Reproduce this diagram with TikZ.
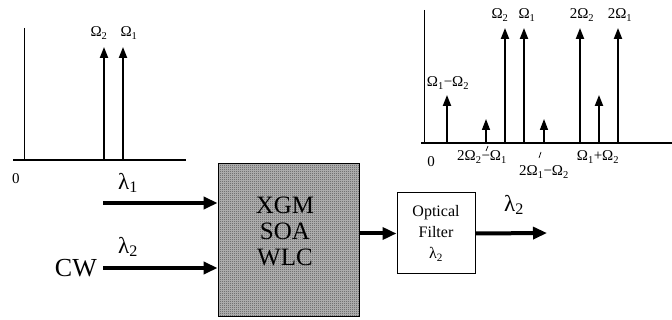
\documentclass[tikz,border=0pt]{standalone}
\usepackage{fontspec}
\setmainfont{Liberation Serif}
\usetikzlibrary{arrows.meta,patterns.meta}

\tikzdeclarepattern{
  name=soachecker,
  type=uncolored,
  bottom left={(0pt,0pt)},
  top right={(2pt,2pt)},
  tile size={(2pt,2pt)},
  code={
    \pgfpathrectangle{\pgfpoint{0pt}{0pt}}{\pgfpoint{1pt}{1pt}}
    \pgfpathrectangle{\pgfpoint{1pt}{1pt}}{\pgfpoint{1pt}{1pt}}
    \pgfusepath{fill}
  }
}

\begin{document}
\begin{tikzpicture}[x=1pt, y=-1pt,
  axis/.style={line width=1.2pt},
  spec/.style={-{Triangle[length=11pt,width=8pt]}, line width=2pt},
  weak/.style={-{Triangle[length=11pt,width=8pt]}, line width=1.4pt},
  tag/.style={font=\fontsize{15}{15}\selectfont, inner sep=0pt},
  big/.style={font=\fontsize{23}{23}\selectfont, inner sep=0pt},
  beam/.style={-{Triangle[length=14pt,width=12pt]}, line width=4pt},
  soabox/.style={draw, line width=0.8pt, preaction={fill=gray!55}, pattern=soachecker, pattern color=black!70, minimum width=141pt, minimum height=153pt},
  filterbox/.style={draw, line width=1pt, fill=white, minimum width=78pt, minimum height=81pt, align=center, font=\fontsize{16}{21}\selectfont}
]
  \useasboundingbox (0,0) rectangle (672,320);

  % input spectrum
  \draw[line width=0.9pt] (24,28) -- (24,160);
  \draw[axis] (13,160) -- (186,160);
  \foreach \name/\x in {inTwo/104, inOne/123} {
    \coordinate (\name-b) at (\x,160);
    \coordinate (\name-t) at (\x,47);
    \draw[spec] (\name-b) -- (\name-t);
  }
  \node[tag] (zeroin) at (16,179) {0};
  \node[tag] (labinTwo) at (99,33) {Ω\textsubscript{2}};
  \node[tag] (labinOne) at (129,33) {Ω\textsubscript{1}};

  % output spectrum
  \draw[line width=0.9pt] (424,10) -- (424,143);
  \draw[axis] (421,143) -- (672,143);
  \foreach \name/\x/\top in {diff/447/95, sum/599/95, om2/505/28, om1/524/28, harm2/580/28, harm1/618/28} {
    \coordinate (\name-b) at (\x,143);
    \coordinate (\name-t) at (\x,\top);
    \draw[spec] (\name-b) -- (\name-t);
  }
  \foreach \name/\x in {fwmTwo/486, fwmOne/544} {
    \coordinate (\name-b) at (\x,143);
    \coordinate (\name-t) at (\x,119);
    \draw[weak] (\name-b) -- (\name-t);
  }
  \node[tag] (zeroout) at (431,162) {0};
  \node[tag] (labom2) at (500,15) {Ω\textsubscript{2}};
  \node[tag] (labom1) at (527,15) {Ω\textsubscript{1}};
  \node[tag] (labharm2) at (582,15) {2Ω\textsubscript{2}};
  \node[tag] (labharm1) at (620,15) {2Ω\textsubscript{1}};
  \node[tag] (labdiff) at (448,83) {Ω\textsubscript{1}−Ω\textsubscript{2}};
  \node[tag] (labfwmTwo) at (482,157) {2Ω\textsubscript{2}−Ω\textsubscript{1}};
  \node[tag] (labfwmOne) at (544,172) {2Ω\textsubscript{1}−Ω\textsubscript{2}};
  \node[tag] (labsum) at (598,157) {Ω\textsubscript{1}+Ω\textsubscript{2}};
  \draw[line width=0.7pt] (488,146) -- (486,151);
  \draw[line width=0.7pt] (541,152) -- (539,158);

  % converter
  \node[soabox] (soa) at (288.5,240) {};
  \node[big, align=center, font=\fontsize{25}{26}\selectfont] (soatext) at (285,231) {XGM\\SOA\\WLC};
  \node[filterbox] (filter) at (436,233.5) {Optical\\Filter\\λ\textsubscript{2}};

  \coordinate (inOne) at (103,203);
  \node[big, font=\fontsize{26}{26}\selectfont, anchor=east] (cw) at (97,268) {CW};
  \coordinate (out) at (547,233);

  \draw[beam] (inOne) -- (inOne -| soa.west);
  \draw[beam] (cw.east) ++(6,0) -- (cw -| soa.west);
  \draw[beam] (soa.east |- filter) -- (filter.west);
  \draw[beam] (filter.east) -- (out);

  \node[big] (lamOne) at (128,183) {λ\textsubscript{1}};
  \node[big] (lamTwo) at (128,247) {λ\textsubscript{2}};
  \node[big] (lamOut) at (514,205) {λ\textsubscript{2}};
\end{tikzpicture}
\end{document}
